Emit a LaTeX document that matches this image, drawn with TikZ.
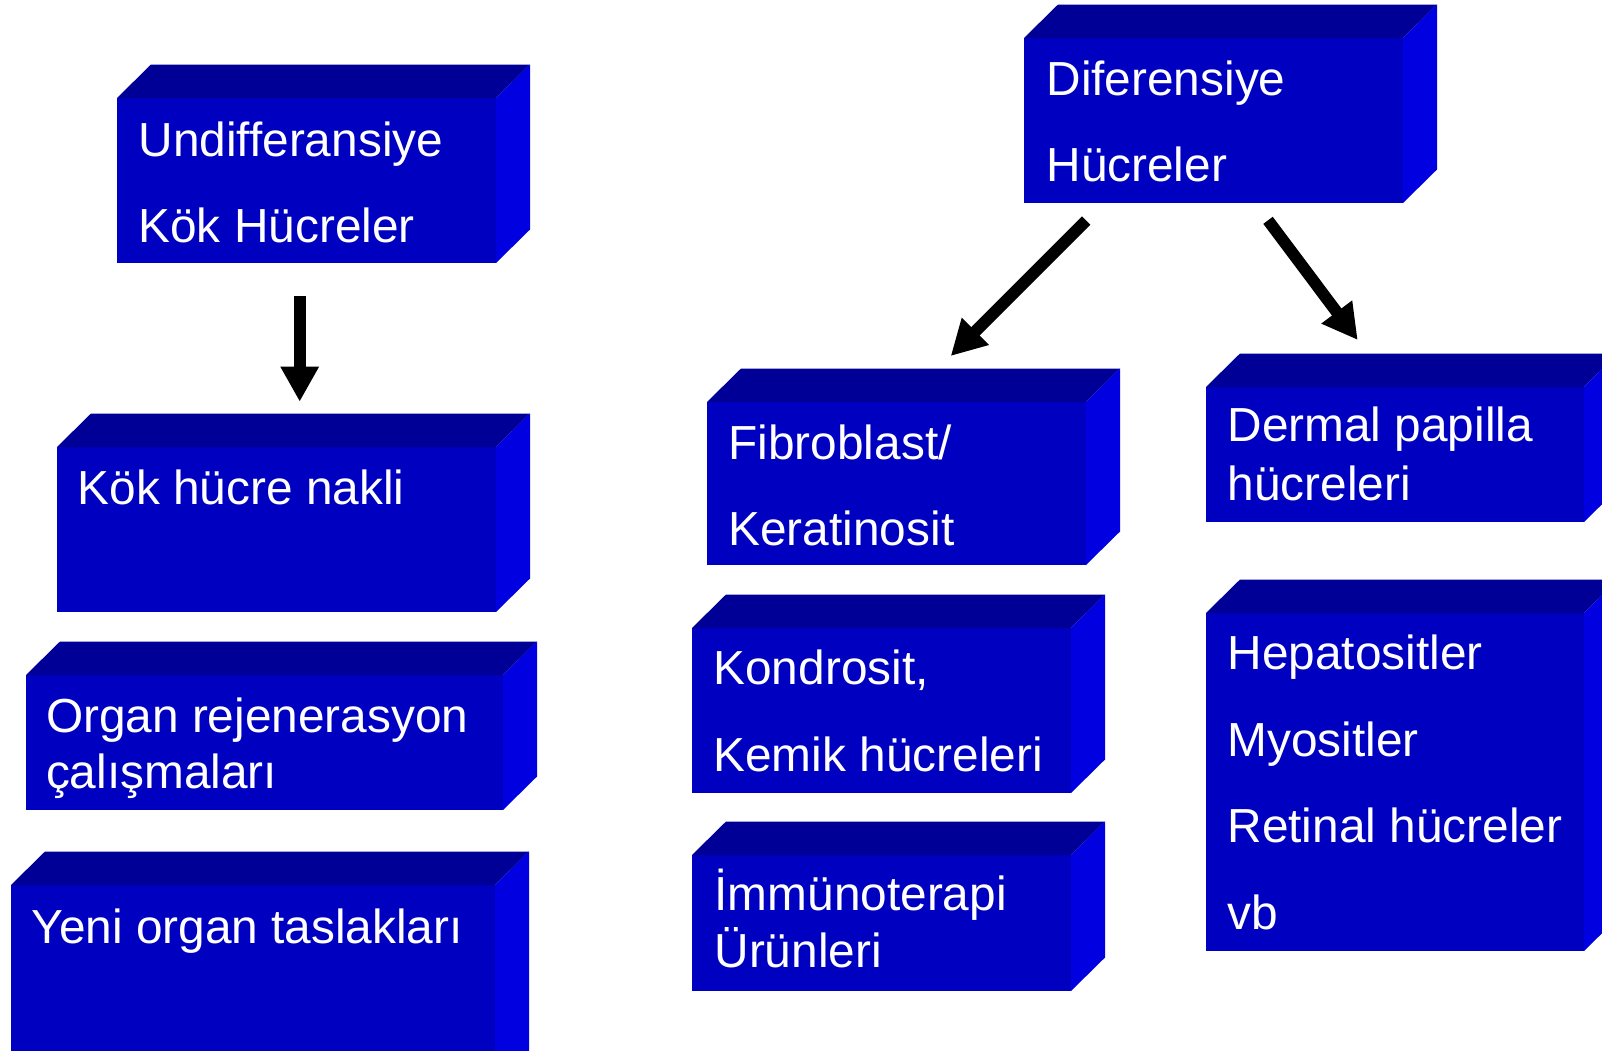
\documentclass[tikz,border=0pt]{standalone}
\usepackage{fontspec}
\setmainfont{Liberation Sans}
\usetikzlibrary{calc,arrows.meta}
\definecolor{frontc}{RGB}{0,0,192}
\definecolor{topcol}{RGB}{0,0,150}
\definecolor{sidecol}{RGB}{0,0,224}
\tikzset{
  front/.style={fill=frontc, draw=none, inner sep=0pt, outer sep=0pt, anchor=north west},
  topface/.style={fill=topcol},
  sideface/.style={fill=sidecol},
  lbl/.style={anchor=base west, inner sep=0pt, outer sep=0pt, text=white, font=\fontsize{47.8}{57}\selectfont},
  bigarrow/.style={line width=11.8pt, -{Triangle[width=36pt,length=35pt]}, black}
}
\newcommand\blockbox[5]{%
  \node[front, minimum width=#4pt, minimum height=#5pt] (#1) at (#2,#3) {};
  \fill[topface] (#1.north west) -- ++(34,-33.5) -- ($(#1.north east)+(34,-33.5)$) -- (#1.north east) -- cycle;
  \fill[sideface] (#1.north east) -- ++(34,-33.5) -- ($(#1.south east)+(34,-33.5)$) -- (#1.south east) -- cycle;
}
\begin{document}
\begin{tikzpicture}[x=1pt,y=-1pt]
\useasboundingbox (0,0) rectangle (1602,1050);
\clip (0,0) rectangle (1602,1050);
% left column
\blockbox{b1}{117}{98}{379}{165}
\blockbox{b2}{57}{447}{439}{165}
\blockbox{b3}{26}{675}{477}{135}
\blockbox{b4}{11}{885}{484}{200}
% right top
\blockbox{b5}{1024}{38}{379}{165}
% middle column
\blockbox{b6}{707}{402}{379}{163}
\blockbox{b7}{692}{628}{379}{165}
\blockbox{b8}{692}{855}{379}{136}
% right column
\blockbox{b9}{1206}{387}{378}{135}
\blockbox{b10}{1206}{613}{378}{338}
% texts
\node[lbl] (t1a) at (138.5,156) {Undifferansiye};
\node[lbl] (t1b) at (138.5,242.7) {Kök Hücreler};
\node[lbl] (t2a) at (77.8,504) {Kök hücre nakli};
\node[lbl] (t3a) at (46,732) {Organ rejenerasyon};
\node[lbl] (t3b) at (46,788.3) {çalışmaları};
\node[lbl] (t4a) at (31.5,943) {Yeni organ taslakları};
\node[lbl] (t5a) at (1046.5,95) {Diferensiye};
\node[lbl] (t5b) at (1046.5,181.7) {Hücreler};
\node[lbl] (t6a) at (728.5,459) {Fibroblast/};
\node[lbl] (t6b) at (728.5,545) {Keratinosit};
\node[lbl] (t7a) at (713.5,684.3) {Kondrosit,};
\node[lbl] (t7b) at (713.5,771) {Kemik hücreleri};
\node[lbl] (t8a) at (714.5,910) {İmmünoterapi};
\node[lbl] (t8b) at (714.5,967.7) {Ürünleri};
\node[lbl] (t9a) at (1227.5,441.7) {Dermal papilla};
\node[lbl] (t9b) at (1227.5,500) {hücreleri};
\node[lbl] (t10a) at (1227.5,669.3) {Hepatositler};
\node[lbl] (t10b) at (1227.5,756.7) {Myositler};
\node[lbl] (t10c) at (1227.5,842.3) {Retinal hücreler};
\node[lbl] (t10d) at (1227.5,929) {vb};
% arrows
\coordinate (a1s) at (299.7,296);
\coordinate (a1e) at (299.7,401.7);
\coordinate (a2s) at (1086.2,220.5);
\coordinate (a2e) at (950.7,356);
\coordinate (a3s) at (1268,220.3);
\coordinate (a3e) at (1357.7,340);
\draw[bigarrow] (a1s) -- (a1e);
\draw[bigarrow] (a2s) -- (a2e);
\draw[bigarrow] (a3s) -- (a3e);
\end{tikzpicture}
\end{document}
